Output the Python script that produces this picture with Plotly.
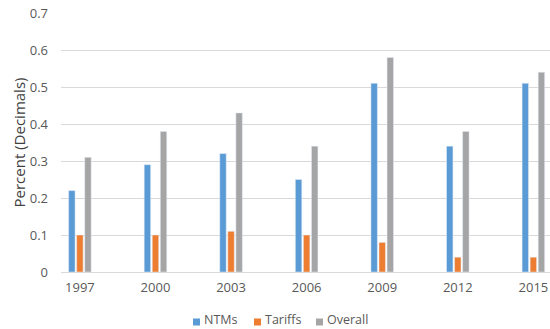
import plotly.graph_objects as go

years = ["1997", "2000", "2003", "2006", "2009", "2012", "2015"]
ntms = [0.22, 0.29, 0.32, 0.25, 0.51, 0.34, 0.51]
tariffs = [0.10, 0.10, 0.11, 0.10, 0.08, 0.04, 0.04]
overall = [0.31, 0.38, 0.43, 0.34, 0.58, 0.38, 0.54]
yticks = [0, 0.1, 0.2, 0.3, 0.4, 0.5, 0.6, 0.7]
ytick_text = ["0", "0.1", "0.2", "0.3", "0.4", "0.5", "0.6", "0.7"]
series_names = ["NTMs", "Tariffs", "Overall"]
series_colors = ["#5B9BD5", "#ED7D31", "#A5A5A5"]

FONT = "Open Sans"
GRAY = "#595959"
W, H = 550, 329
ML, MR, MT, MB = 61, 0, 13, 57

fig = go.Figure()
for name, vals, col in zip(series_names, [ntms, tariffs, overall], series_colors):
    fig.add_trace(go.Bar(name=name, x=years, y=vals, marker_color=col))

# custom legend (squares + text) positioned in pixels converted to paper coords
pw = W - ML - MR
ph = H - MT - MB
def px_x(px):
    return (px - ML) / pw
def px_y(py):
    return (H - MB - py) / ph

leg_sq_left = [193, 254, 316]
leg_cy = 322
sq = 7
for left, name, col in zip(leg_sq_left, series_names, series_colors):
    fig.add_shape(type="rect", xref="paper", yref="paper",
                  x0=px_x(left), x1=px_x(left + sq),
                  y0=px_y(leg_cy + sq / 2), y1=px_y(leg_cy - sq / 2),
                  fillcolor=col, line=dict(width=0))
    fig.add_annotation(xref="paper", yref="paper", x=px_x(left + sq + 3), y=px_y(H - 0.5),
                       xanchor="left", yanchor="bottom", text=name, showarrow=False,
                       borderpad=0, font=dict(family=FONT, size=12.5, color=GRAY))

fig.update_layout(
    width=W, height=H,
    margin=dict(l=ML, r=MR, t=MT, b=MB),
    paper_bgcolor="white", plot_bgcolor="white",
    barmode="group", bargap=0.68, bargroupgap=0.2,
    font=dict(family=FONT, size=13, color=GRAY),
    showlegend=False,
)
fig.update_xaxes(
    type="category", range=[-0.25, 6.22], showgrid=False, showline=False,
    zeroline=False, ticks="", tickfont=dict(size=13, color=GRAY),
    ticklabelstandoff=6,
)
fig.update_yaxes(
    range=[0, 0.7], tickvals=yticks, ticktext=ytick_text,
    showgrid=True, gridcolor="#D9D9D9", gridwidth=1,
    zeroline=True, zerolinecolor="#D9D9D9", zerolinewidth=1,
    showline=False, ticks="", tickfont=dict(size=13, color=GRAY),
    ticklabelstandoff=12,
    title=dict(text="Percent (Decimals)", font=dict(size=15, color="#404040"), standoff=0),
)

fig.write_html("out.html")
